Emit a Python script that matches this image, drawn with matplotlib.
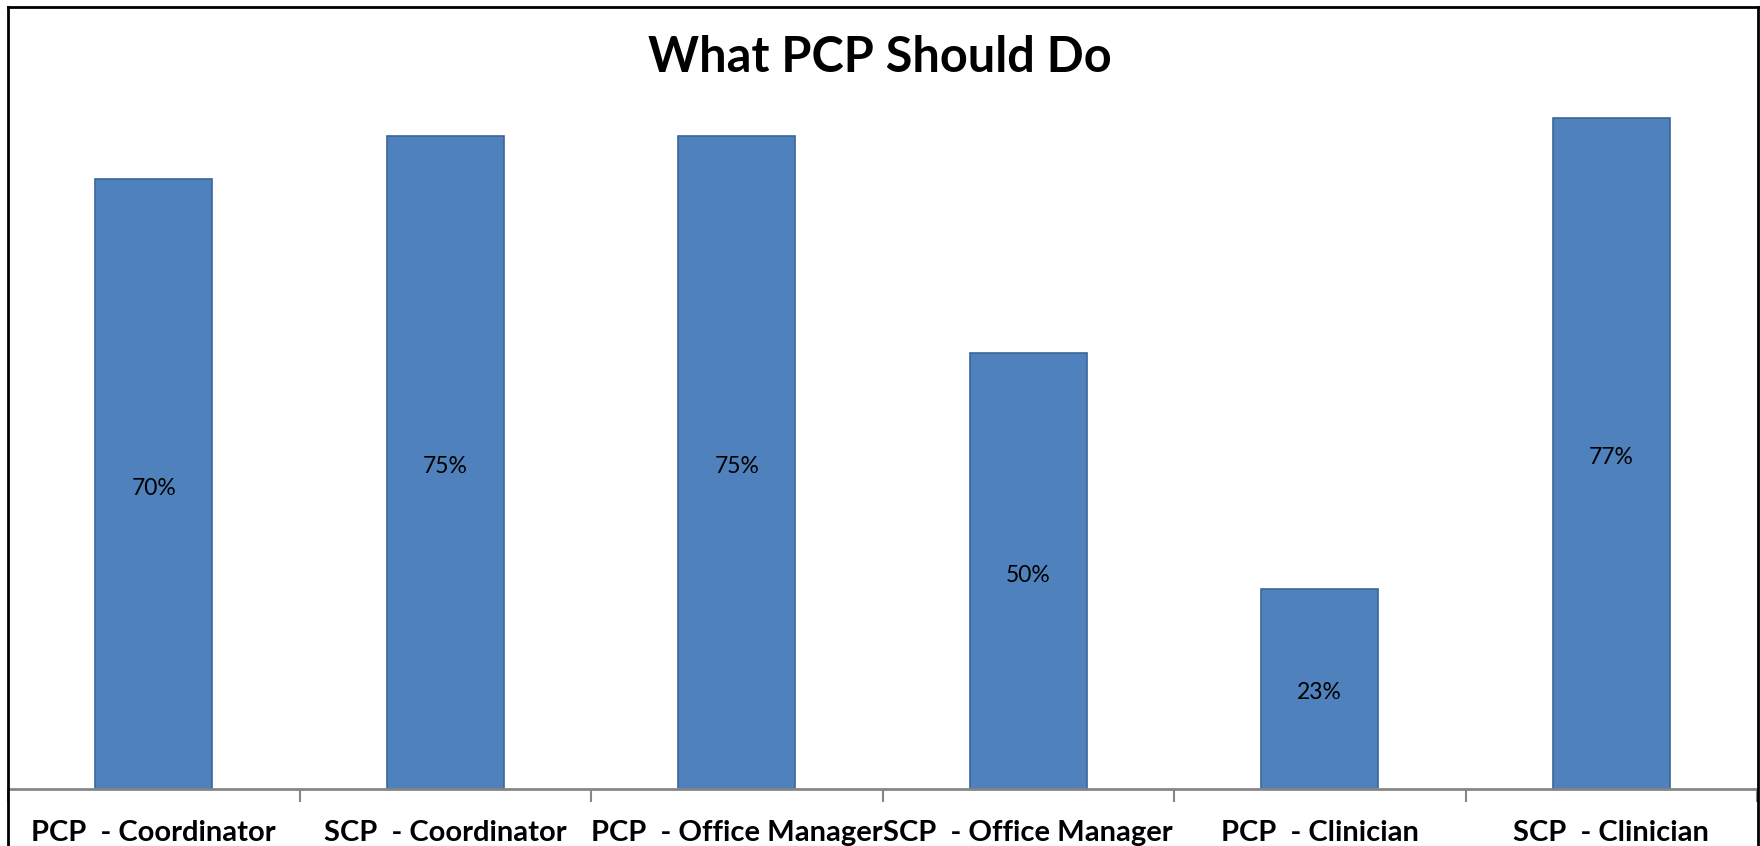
import matplotlib.pyplot as plt
from matplotlib.lines import Line2D

categories = ["PCP  - Coordinator", "SCP  - Coordinator", "PCP  - Office Manager",
              "SCP  - Office Manager", "PCP  - Clinician", "SCP  - Clinician"]
values = [70, 75, 75, 50, 23, 77]
labels = ["70%", "75%", "75%", "50%", "23%", "77%"]

W, H = 1760, 846
fig = plt.figure(figsize=(W / 100, H / 100), dpi=100)

# plot area, in pixels of the final image
left, right, axis_y, top_y = 8, 1757, 789, 92
ax = fig.add_axes([left / W, (H - axis_y) / H, (right - left) / W, (axis_y - top_y) / H])

x = list(range(len(categories)))
ax.bar(x, values, width=0.4, color="#4F81BD", edgecolor="#3A669B", linewidth=1.2)

for xi, v, lab in zip(x, values, labels):
    ax.annotate(lab, (xi, v / 2), xytext=(0, -3), textcoords="offset points",
                ha="center", va="center", fontsize=16.5,
                family=["Lato", "DejaVu Sans"], color="black")

ax.set_xlim(-0.5, len(categories) - 0.5)
ax.set_ylim(0, 80)

for s in ["top", "right", "left"]:
    ax.spines[s].set_visible(False)
ax.spines["bottom"].set_color("#868686")
ax.spines["bottom"].set_linewidth(2)
ax.set_yticks([])

ax.set_xticks(x)
ax.set_xticklabels(categories, fontsize=21, fontweight="bold", family=["Lato", "DejaVu Sans"])
ax.tick_params(axis="x", which="major", length=0, pad=22)
ax.set_xticks([i - 0.5 for i in range(len(categories) + 1)], minor=True)
ax.tick_params(axis="x", which="minor", length=9, width=1.5, color="#868686", direction="out")

fig.text(0.5, (H - 58) / H, "What PCP Should Do", ha="center", va="center",
         fontsize=35, fontweight="bold", family=["Lato", "DejaVu Sans"])

# outer chart border (bottom edge lies below the picture)
bx0, bx1, by0 = 7.5 / W, 1757.5 / W, (H - 7) / H
for xs, ys in [([bx0, bx0], [0, by0]), ([bx0, bx1], [by0, by0]), ([bx1, bx1], [by0, 0])]:
    fig.add_artist(Line2D(xs, ys, color="black", linewidth=2, transform=fig.transFigure))

fig.savefig("out.png", dpi=100)
